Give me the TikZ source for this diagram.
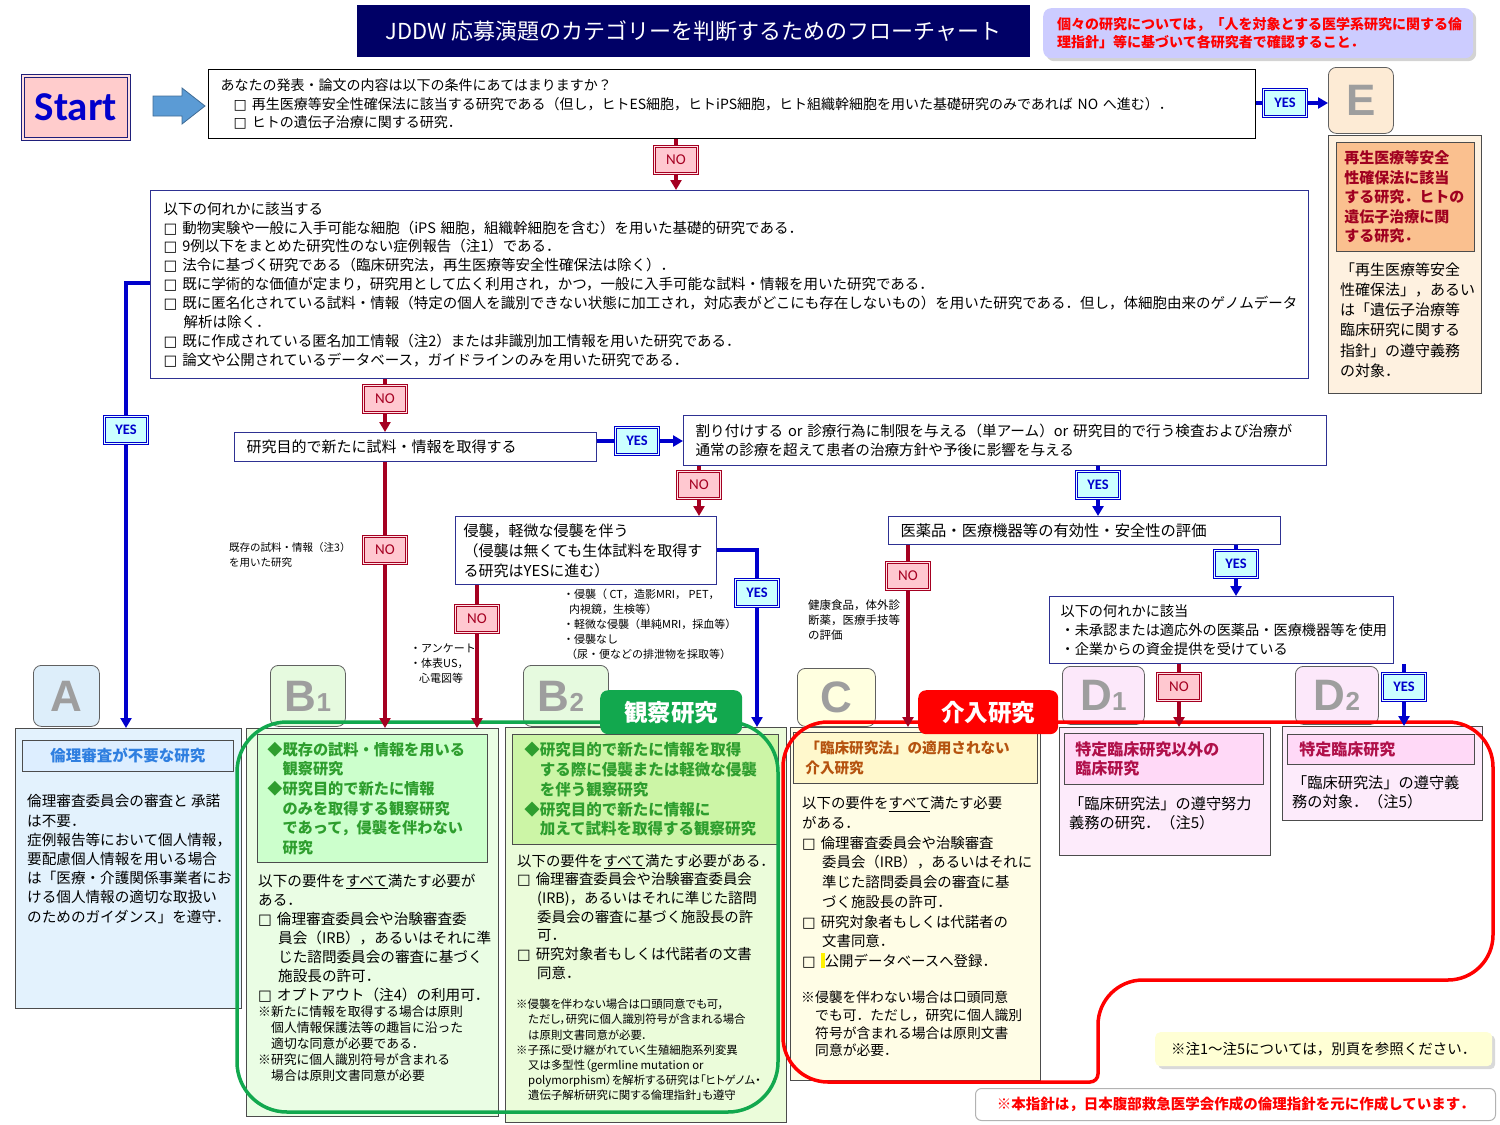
\documentclass[tikz,border=0pt]{standalone}
\usepackage{fontspec}
\setmainfont{Noto Sans CJK JP}
\newfontfamily\calfont{Carlito}
\newfontfamily\letfont{Liberation Sans}
\newfontfamily\boxfont{DejaVu Sans}
\usetikzlibrary{arrows.meta,shadows}
\newcommand{\fz}[2]{\fontsize{#1}{#2}\selectfont}
\newcommand{\chk}{{\boxfont\bfseries □}\hspace{5pt}}
\definecolor{navy}{HTML}{000066}
\definecolor{boxnavy}{HTML}{2E3192}
\definecolor{nored}{HTML}{A50021}
\definecolor{nofill}{HTML}{FFC8D0}
\definecolor{yesblue}{HTML}{0000CC}
\definecolor{yesfill}{HTML}{CCFFFF}
\definecolor{notebg}{HTML}{CCCCFF}
\definecolor{startfill}{HTML}{FFCCCC}
\definecolor{startnavy}{HTML}{1F1F7A}
\definecolor{arrowfill}{HTML}{5B9BD5}
\definecolor{epeach}{HTML}{FDEBD5}
\definecolor{eboxbg}{HTML}{FEF1E0}
\definecolor{eorange}{HTML}{FAC08F}
\definecolor{edark}{HTML}{A00020}
\definecolor{abg}{HTML}{E3F2FD}
\definecolor{atab}{HTML}{DDEEFA}
\definecolor{atitlebg}{HTML}{DDEEFF}
\definecolor{ablue}{HTML}{2F7FE0}
\definecolor{b1bg}{HTML}{EAFDE4}
\definecolor{b1inner}{HTML}{CCFFCC}
\definecolor{gtext}{HTML}{2E9E2E}
\definecolor{b2bg}{HTML}{EBFCDA}
\definecolor{b2inner}{HTML}{CCF5A6}
\definecolor{btab}{HTML}{E6FADF}
\definecolor{ctab}{HTML}{FFFFE0}
\definecolor{cbg}{HTML}{FFFDE6}
\definecolor{cinner}{HTML}{FFF8CC}
\definecolor{ctext}{HTML}{B5530F}
\definecolor{dtab}{HTML}{FCE8FA}
\definecolor{dbg}{HTML}{FDEBFB}
\definecolor{dinner}{HTML}{FFD9F7}
\definecolor{dtext}{HTML}{B0104A}
\definecolor{obsgreen}{HTML}{12A84E}
\definecolor{intred}{HTML}{FF0000}
\definecolor{notey}{HTML}{FFFFD5}
\begin{document}
\begin{tikzpicture}[x=1pt,y=-1pt,
  bxs/.style={anchor=north west, inner ysep=0pt, align=left},
  qbox/.style={bxs, draw=boxnavy, line width=1.1pt, fill=white},
  txt/.style={anchor=north west, inner sep=0pt, align=left},
  tabx/.style={draw=gray!75!black, line width=0.8pt, rounded corners=8pt, anchor=north west, inner sep=0pt, font=\letfont\bfseries\fz{44}{44}, text=black!38},
  contentbx/.style={draw=gray!60!black, line width=0.8pt, anchor=north west, inner sep=0pt},
  innerbx/.style={bxs, draw=gray!60!black, line width=0.8pt},
  yesbx/.style={draw=yesblue, line width=1.2pt, double=yesfill!50!white, double distance=1.1pt, fill=yesfill, minimum width=43pt, minimum height=27pt, inner sep=0pt, text=yesblue, font=\calfont\bfseries\fz{14.5}{14}},
  nobx/.style={draw=nored, line width=1.2pt, double=nofill!50!white, double distance=1.1pt, fill=nofill, minimum width=43pt, minimum height=27pt, inner sep=0pt, text=nored, font=\calfont\fz{15}{14}},
  yesln/.style={draw=yesblue, line width=3.5pt},
  noln/.style={draw=nored, line width=3.5pt},
  arrowend/.style={-{Triangle[length=10pt,width=11pt]}}
]
\useasboundingbox (0,0) rectangle (1500,1125);

% ---------- header ----------
\node[fill=navy, minimum width=673pt, minimum height=52pt, anchor=north west, text=white, font=\fz{22}{24}, inner sep=0pt] (title) at (357,5) {JDDW 応募演題のカテゴリーを判断するためのフローチャート};
\node[fill=notebg, rounded corners=8pt, drop shadow={opacity=0.35, shadow xshift=3pt, shadow yshift=-3pt}, minimum width=430pt, minimum height=50pt, anchor=north west, text width=402pt, inner xsep=14pt, inner ysep=0pt, align=left, text=intred, font=\bfseries\fz{14}{18}] (note) at (1043,8) {個々の研究については，「人を対象とする医学系研究に関する倫\\理指針」等に基づいて各研究者で確認すること．};

\node[draw=startnavy, line width=1.6pt, double=startfill!60!white, double distance=1.4pt, fill=startfill, minimum width=106pt, minimum height=63pt, anchor=north west, inner sep=0pt, text=yesblue, font=\calfont\bfseries\fz{41}{41}] (start) at (22,75) {Start};
\filldraw[fill=arrowfill, draw=arrowfill!70!black, line width=0.8pt] (153,96) -- (182,96) -- (182,88) -- (205,106) -- (182,124) -- (182,116) -- (153,116) -- cycle;

% ---------- question boxes ----------
\node[qbox, draw=black, minimum width=1047pt, minimum height=69pt, text width=1023pt, inner xsep=12pt, font=\fz{14}{18.7}] (q1) at (208,69) {あなたの発表・論文の内容は以下の条件にあてはまりますか？\\
\hspace*{13pt}\chk 再生医療等安全性確保法に該当する研究である（但し，ヒトES細胞，ヒトiPS細胞，ヒト組織幹細胞を用いた基礎研究のみであれば~NO~へ進む）．\\
\hspace*{13pt}\chk ヒトの遺伝子治療に関する研究．};

\node[qbox, minimum width=1158pt, minimum height=188pt, text width=1132pt, inner xsep=13pt, font=\fz{14.5}{18.9}] (q2) at (150,190) {以下の何れかに該当する\\
\chk 動物実験や一般に入手可能な細胞（iPS~細胞，組織幹細胞を含む）を用いた基礎的研究である．\\
\chk 9例以下をまとめた研究性のない症例報告（注1）である．\\
\chk 法令に基づく研究である（臨床研究法，再生医療等安全性確保法は除く）．\\
\chk 既に学術的な価値が定まり，研究用として広く利用され，かつ，一般に入手可能な試料・情報を用いた研究である．\\
\chk 既に匿名化されている試料・情報（特定の個人を識別できない状態に加工され，対応表がどこにも存在しないもの）を用いた研究である．但し，体細胞由来のゲノムデータ\\
\hspace*{20pt}解析は除く．\\
\chk 既に作成されている匿名加工情報（注2）または非識別加工情報を用いた研究である．\\
\chk 論文や公開されているデータベース，ガイドラインのみを用いた研究である．};

\node[qbox, minimum width=362pt, minimum height=29pt, text width=338pt, inner xsep=12pt, font=\fz{15}{19}] (q3) at (234,432) {研究目的で新たに試料・情報を取得する};
\node[qbox, minimum width=643pt, minimum height=50pt, text width=619pt, inner xsep=12pt, font=\fz{14.6}{19}] (q4) at (683,415) {割り付けする~or~診療行為に制限を与える（単アーム）or~研究目的で行う検査および治療が\\通常の診療を超えて患者の治療方針や予後に影響を与える};
\node[qbox, minimum width=261pt, minimum height=68pt, text width=245pt, inner xsep=8pt, font=\fz{15}{20}] (q5) at (455,516) {侵襲，軽微な侵襲を伴う\\（侵襲は無くても生体試料を取得す\\る研究はYESに進む）};
\node[qbox, minimum width=392pt, minimum height=28pt, text width=368pt, inner xsep=12pt, font=\fz{15.3}{19}] (q6) at (888,516) {医薬品・医療機器等の有効性・安全性の評価};
\node[qbox, minimum width=344pt, minimum height=67pt, text width=322pt, inner xsep=11pt, font=\fz{14.2}{19}] (q7) at (1049,596) {以下の何れかに該当\\・未承認または適応外の医薬品・医療機器等を使用\\・企業からの資金提供を受けている};

% ---------- E ----------
\node[tabx, fill=epeach, minimum width=65pt, minimum height=66pt] (etab) at (1328,67) {E};
\node[contentbx, fill=eboxbg, minimum width=153pt, minimum height=258pt] (ebox) at (1328,135) {};
\node[bxs, draw=black!70, line width=0.8pt, fill=eorange, minimum width=138pt, minimum height=109pt, text width=122pt, inner xsep=8pt, text=edark, font=\bfseries\fz{15}{19.5}] (einner) at (1336,142) {再生医療等安全\\性確保法に該当\\する研究．ヒトの\\遺伝子治療に関\\する研究．};
\node[txt, font=\fz{15}{20.2}] (etext) at (1340,262.5) {「再生医療等安全\\性確保法」，あるい\\は「遺伝子治療等\\臨床研究に関する\\指針」の遵守義務\\の対象．};

% ---------- A ----------
\node[contentbx, fill=abg, minimum width=226pt, minimum height=280pt] (abox) at (15,728) {};
\node[tabx, fill=atab, minimum width=66pt, minimum height=61pt] (atab) at (33,665) {A};
\node[innerbx, fill=atitlebg, minimum width=211pt, minimum height=31pt, align=center, text=ablue, font=\bfseries\fz{15.5}{18}] (atitle) at (22,740) {倫理審査が不要な研究};
\node[txt, font=\fz{14.6}{19.2}] (atext) at (27,794.5) {倫理審査委員会の審査と~承諾\\は不要．\\症例報告等において個人情報，\\要配慮個人情報を用いる場合\\は「医療・介護関係事業者にお\\ける個人情報の適切な取扱い\\のためのガイダンス」を遵守．};

% ---------- B1 ----------
\node[contentbx, fill=b1bg, minimum width=252pt, minimum height=388pt] (b1box) at (246,728) {};
\node[tabx, fill=btab, minimum width=75pt, minimum height=61pt] (b1tab) at (270,665) {B{\fz{26}{26}1}};
\node[innerbx, fill=b1inner, minimum width=230pt, minimum height=128pt, text width=210pt, inner xsep=10pt, text=gtext, font=\bfseries\fz{15.2}{19.6}] (b1inner) at (257,734) {◆既存の試料・情報を用いる\\　観察研究\\◆研究目的で新たに情報\\　のみを取得する観察研究\\　であって，侵襲を伴わない\\　研究};
\node[txt, font=\fz{14.6}{19}] (b1text) at (258,873.5) {以下の要件を\underline{すべて}満たす必要が\\ある．\\\chk 倫理審査委員会や治験審査委\\\hspace*{20pt}員会（IRB），あるいはそれに準\\\hspace*{20pt}じた諮問委員会の審査に基づく\\\hspace*{20pt}施設長の許可．\\\chk オプトアウト（注4）の利用可．};
\node[txt, font=\fz{12.8}{16}] (b1note) at (258,1005.6) {※新たに情報を取得する場合は原則\\\hspace*{13pt}個人情報保護法等の趣旨に沿った\\\hspace*{13pt}適切な同意が必要である．\\※研究に個人識別符号が含まれる\\\hspace*{13pt}場合は原則文書同意が必要};

% ---------- B2 ----------
\node[contentbx, fill=b2bg, minimum width=281pt, minimum height=395pt] (b2box) at (505,727) {};
\node[tabx, fill=btab, minimum width=85pt, minimum height=61pt] (b2tab) at (523,665) {B{\fz{26}{26}2}\hspace*{10pt}};
\node[innerbx, fill=b2inner, minimum width=266pt, minimum height=110pt, text width=242pt, inner xsep=12pt, text=gtext, font=\bfseries\fz{15.5}{19.75}] (b2inner) at (512,734) {◆研究目的で新たに情報を取得\\　する際に侵襲または軽微な侵襲\\　を伴う観察研究\\◆研究目的で新たに情報に\\　加えて試料を取得する観察研究};
\node[txt, font=\fz{14.4}{18.7}] (b2text) at (517,853.8) {以下の要件を\underline{すべて}満たす必要がある．\\\chk 倫理審査委員会や治験審査委員会\\\hspace*{20pt}(IRB)，あるいはそれに準じた諮問\\\hspace*{20pt}委員会の審査に基づく施設長の許\\\hspace*{20pt}可．\\\chk 研究対象者もしくは代諾者の文書\\\hspace*{20pt}同意．};
\node[txt, font=\fz{11.4}{15.2}\addfontfeatures{RawFeature=+palt}] (b2note) at (516,999) {※侵襲を伴わない場合は口頭同意でも可，\\\hspace*{12pt}ただし，研究に個人識別符号が含まれる場合\\\hspace*{12pt}は原則文書同意が必要．\\※子孫に受け継がれていく生殖細胞系列変異\\\hspace*{12pt}又は多型性（germline mutation or\\\hspace*{12pt}polymorphism）を解析する研究は「ヒトゲノム・\\\hspace*{12pt}遺伝子解析研究に関する倫理指針」も遵守};

% ---------- C ----------
\node[contentbx, fill=cbg, minimum width=250pt, minimum height=353pt] (cbox) at (790,727) {};
\node[tabx, fill=ctab, minimum width=78pt, minimum height=58pt] (ctab) at (797,668) {C};
\node[innerbx, fill=cinner, minimum width=244pt, minimum height=51pt, text width=220pt, inner xsep=12pt, text=ctext, font=\bfseries\fz{14.6}{20}] (cinner) at (793,732) {「臨床研究法」の適用されない\\介入研究};
\node[txt, font=\fz{14.4}{19.7}] (ctext) at (802,796.5) {以下の要件を\underline{すべて}満たす必要\\がある．\\\chk 倫理審査委員会や治験審査\\\hspace*{20pt}委員会（IRB），あるいはそれに\\\hspace*{20pt}準じた諮問委員会の審査に基\\\hspace*{20pt}づく施設長の許可．\\\chk 研究対象者もしくは代諾者の\\\hspace*{20pt}文書同意．\\\chk\textcolor{yellow}{\rule[-2pt]{4pt}{15pt}}公開データベースへ登録．};
\node[txt, font=\fz{13.8}{17.7}] (cnote) at (801,991) {※侵襲を伴わない場合は口頭同意\\\hspace*{14pt}でも可．ただし，研究に個人識別\\\hspace*{14pt}符号が含まれる場合は原則文書\\\hspace*{14pt}同意が必要．};

% ---------- D1, D2 ----------
\node[contentbx, fill=dbg, minimum width=211pt, minimum height=128pt] (d1box) at (1059,727) {};
\node[tabx, fill=dtab, minimum width=82pt, minimum height=58pt] (d1tab) at (1062,666) {D{\fz{26}{26}1}};
\node[innerbx, fill=dinner, minimum width=199pt, minimum height=51pt, text width=177pt, inner xsep=11pt, text=dtext, font=\bfseries\fz{16}{19.5}] (d1inner) at (1064,733) {特定臨床研究以外の\\臨床研究};
\node[txt, font=\fz{15.2}{19}] (d1text) at (1069,796.4) {「臨床研究法」の遵守努力\\義務の研究．（注5）};

\node[contentbx, fill=dbg, minimum width=200pt, minimum height=94pt] (d2box) at (1282,726) {};
\node[tabx, fill=dtab, minimum width=83pt, minimum height=58pt] (d2tab) at (1295,666) {D{\fz{26}{26}2}};
\node[innerbx, fill=dinner, minimum width=187pt, minimum height=30pt, text width=163pt, inner xsep=12pt, text=dtext, font=\bfseries\fz{16}{19.5}] (d2inner) at (1287,734) {特定臨床研究};
\node[txt, font=\fz{15.2}{19}] (d2text) at (1292,775.4) {「臨床研究法」の遵守義\\務の対象．（注5）};

% ---------- group outlines ----------
\draw[draw=obsgreen, line width=3.5pt, rounded corners=50pt] (237,722) rectangle (778,1112);
\node[fill=obsgreen, rounded corners=8pt, minimum width=142pt, minimum height=44pt, anchor=north west, inner sep=0pt, text=white, font=\bfseries\fz{23.5}{26}] (obslbl) at (600,690) {観察研究};
\draw[draw=intred, line width=3.5pt, rounded corners=45pt] (900,722) -- (1493,722) -- (1493,980) -- (1098,980) [rounded corners=8pt] -- (1098,1082) [rounded corners=45pt] -- (783,1082) -- (783,722) -- cycle;
\node[fill=intred, rounded corners=8pt, minimum width=140pt, minimum height=44pt, anchor=north west, inner sep=0pt, text=white, font=\bfseries\fz{23.5}{26}] (intlbl) at (918,690) {介入研究};

% ---------- footnotes ----------
\node[fill=notey, rounded corners=5pt, drop shadow={opacity=0.3, shadow xshift=3pt, shadow yshift=-3pt}, minimum width=337pt, minimum height=34pt, anchor=north west, inner sep=0pt, font=\fz{14.5}{17}] (fn) at (1155,1032) {※注1～注5については，別頁を参照ください．};
\node[draw=gray!60, fill=white, rounded corners=6pt, line width=1pt, minimum width=520pt, minimum height=32pt, anchor=north west, inner sep=0pt, text=intred, font=\bfseries\fz{14.5}{17}] (src) at (975,1088) {※本指針は，日本腹部救急医学会作成の倫理指針を元に作成しています．};

% ---------- side labels ----------
\node[txt, font=\fz{10.5}{15}] (lbl3) at (229,542.5) {既存の試料・情報（注3）\\を用いた研究};
\node[txt, font=\fz{11}{15}] (lbl5) at (410,644) {・アンケート\\・体表US，\\\hspace*{9pt}心電図等};
\node[txt, font=\fz{11}{15}] (lbl5b) at (563,588.5) {・侵襲（~CT，造影MRI，~PET，\\\hspace*{6pt}内視鏡，生検等）\\・軽微な侵襲（単純MRI，採血等）\\・侵襲なし\\\hspace*{3pt}（尿・便などの排泄物を採取等）};
\node[txt, font=\fz{11.5}{15}] (lbl6) at (808,600) {健康食品，体外診\\断薬，医療手技等\\の評価};

% ---------- YES / NO labels ----------
\node[yesbx] (yes1) at (1285,103) {YES};
\node[nobx] (no1) at (676,160) {NO};
\node[yesbx] (yes2) at (126,430) {YES};
\node[nobx] (no2) at (385,399) {NO};
\node[yesbx] (yes3) at (637,441) {YES};
\node[nobx] (no3) at (385,550) {NO};
\node[nobx] (no4) at (699,485) {NO};
\node[yesbx] (yes4) at (1098,485) {YES};
\node[nobx] (no5) at (477,619) {NO};
\node[yesbx] (yes5) at (757,593) {YES};
\node[nobx] (no6) at (908,576) {NO};
\node[yesbx] (yes6) at (1236,564) {YES};
\node[nobx] (no7) at (1179,687) {NO};
\node[yesbx] (yes7) at (1404,687) {YES};

\coordinate (y2) at (0,283);
\coordinate (y5) at (0,550);

% ---------- connectors ----------
\draw[yesln] (q1.east |- yes1) -- (yes1.west);
\draw[yesln,arrowend] (yes1.east) -- (etab.west |- yes1);

\draw[noln] (q1.south -| no1) -- (no1.north);
\draw[noln,arrowend] (no1.south) -- (q2.north -| no1);

\draw[yesln] (q2.west |- y2) -| (yes2.north);
\draw[yesln,arrowend] (yes2.south) -- (abox.north -| yes2);

\draw[noln] (q2.south -| no2) -- (no2.north);
\draw[noln,arrowend] (no2.south) -- (q3.north -| no2);

\draw[yesln] (q3.east |- yes3) -- (yes3.west);
\draw[yesln,arrowend] (yes3.east) -- (q4.west |- yes3);

\draw[noln] (q3.south -| no3) -- (no3.north);
\draw[noln,arrowend] (no3.south) -- (b1box.north -| no3);

\draw[noln] (q4.south -| no4) -- (no4.north);
\draw[noln,arrowend] (no4.south) -- (q5.north -| no4);

\draw[yesln] (q4.south -| yes4) -- (yes4.north);
\draw[yesln,arrowend] (yes4.south) -- (q6.north -| yes4);

\draw[noln] (q5.south -| no5) -- (no5.north);
\draw[noln,arrowend] (no5.south) -- (b1box.north -| no5);

\draw[yesln] (q5.east |- y5) -| (yes5.north);
\draw[yesln,arrowend] (yes5.south) -- (b2box.north -| yes5);

\draw[noln] (q6.south -| no6) -- (no6.north);
\draw[noln,arrowend] (no6.south) -- (cbox.north -| no6);

\draw[yesln] (q6.south -| yes6) -- (yes6.north);
\draw[yesln,arrowend] (yes6.south) -- (q7.north -| yes6);

\draw[noln] (q7.south -| no7) -- (no7.north);
\draw[noln,arrowend] (no7.south) -- (d1box.north -| no7);

\draw[yesln] (q7.south -| yes7) -- (yes7.north);
\draw[yesln,arrowend] (yes7.south) -- (d2box.north -| yes7);
\end{tikzpicture}
\end{document}
